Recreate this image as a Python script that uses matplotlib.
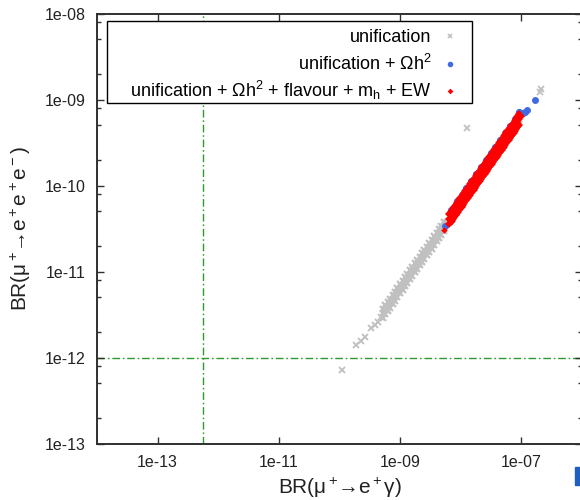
import matplotlib
matplotlib.use('Agg')
import matplotlib.pyplot as plt
from matplotlib.lines import Line2D
from matplotlib.ticker import FixedLocator, NullLocator, FixedFormatter
from matplotlib.patches import Rectangle

plt.rcParams['font.family'] = ['Liberation Sans', 'DejaVu Sans']
plt.rcParams['mathtext.fontset'] = 'custom'
plt.rcParams['mathtext.rm'] = 'Liberation Sans'
plt.rcParams['mathtext.it'] = 'Liberation Sans:italic'
plt.rcParams['mathtext.default'] = 'regular'

# ---------------- data ----------------
series_labels = ['unification',
                 'unification + Ωh$^2$',
                 'unification + Ωh$^2$ + flavour + m$_h$ + EW']

# unification: sparse crosses
gray_sparse_x = [1.09e-10, 1.90e-10, 2.30e-10, 2.60e-10, 3.36e-10, 3.80e-10, 4.31e-10, 4.90e-10,
                 1.29e-8, 2.0e-7, 2.1e-7]
gray_sparse_y = [7.2e-13, 1.40e-12, 1.57e-12, 1.74e-12, 2.22e-12, 2.39e-12, 2.61e-12, 2.98e-12,
                 4.72e-10, 1.23e-9, 1.31e-9]

# unification: dense band (upper edge / middle / lower edge)
gray_band_x = [5.2e-10, 5.7e-10, 6.2e-10, 6.8e-10, 7.5e-10, 8.2e-10, 9.0e-10, 1.0e-9, 1.1e-9,
               1.2e-9, 1.3e-9, 1.45e-9, 1.6e-9, 1.75e-9, 1.9e-9, 2.1e-9, 2.3e-9, 2.5e-9,
               2.75e-9, 3.0e-9, 3.3e-9, 3.6e-9, 4.0e-9, 4.4e-9, 4.8e-9, 5.3e-9]
gray_band_y_up = [3.69e-12, 4.05e-12, 4.40e-12, 4.83e-12, 5.33e-12, 5.82e-12, 6.39e-12, 7.10e-12,
                  7.81e-12, 8.52e-12, 9.23e-12, 1.03e-11, 1.14e-11, 1.24e-11, 1.35e-11, 1.49e-11,
                  1.63e-11, 1.78e-11, 1.95e-11, 2.13e-11, 2.34e-11, 2.56e-11, 2.84e-11, 3.12e-11,
                  3.41e-11, 3.76e-11]
gray_band_y_mid = [3.28e-12, 3.59e-12, 3.91e-12, 4.28e-12, 4.73e-12, 5.17e-12, 5.67e-12, 6.30e-12,
                   6.93e-12, 7.56e-12, 8.19e-12, 9.14e-12, 1.01e-11, 1.10e-11, 1.20e-11, 1.32e-11,
                   1.45e-11, 1.58e-11, 1.73e-11, 1.89e-11, 2.08e-11, 2.27e-11, 2.52e-11, 2.77e-11,
                   3.02e-11, 3.34e-11]
gray_band_y_low = [2.91e-12, 3.19e-12, 3.47e-12, 3.81e-12, 4.20e-12, 4.59e-12, 5.04e-12, 5.60e-12,
                   6.16e-12, 6.72e-12, 7.28e-12, 8.12e-12, 8.96e-12, 9.80e-12, 1.06e-11, 1.18e-11,
                   1.29e-11, 1.40e-11, 1.54e-11, 1.68e-11, 1.85e-11, 2.02e-11, 2.24e-11, 2.46e-11,
                   2.69e-11, 2.97e-11]
# unification: points beneath the red band
gray_hidden_x = [6.0e-9, 8.0e-9, 1.1e-8, 1.5e-8, 2.0e-8, 2.8e-8, 3.8e-8, 5.0e-8, 7.0e-8, 9.0e-8]
gray_hidden_y = [3.8e-11, 5.0e-11, 6.9e-11, 9.5e-11, 1.26e-10, 1.76e-10, 2.4e-10, 3.15e-10, 4.4e-10, 5.7e-10]

# unification + relic density (fringe on the upper side of the red band)
blue_band_x = [6.8e-9, 8.6e-9, 1.03e-8, 1.24e-8, 1.49e-8, 1.79e-8, 2.15e-8, 2.59e-8, 3.11e-8,
               3.74e-8, 4.5e-8, 5.4e-8, 6.5e-8, 7.8e-8, 9.3e-8]
blue_band_y_up = [5.17e-11, 6.54e-11, 7.83e-11, 9.42e-11, 1.13e-10, 1.36e-10, 1.63e-10, 1.97e-10,
                  2.36e-10, 2.84e-10, 3.42e-10, 4.10e-10, 4.94e-10, 5.93e-10, 7.07e-10]
blue_sparse_x = [5.6e-9, 1.05e-7, 1.15e-7, 1.22e-7, 1.69e-7]
blue_sparse_y = [3.4e-11, 6.9e-10, 7.2e-10, 7.5e-10, 9.9e-10]

# all constraints
red_band_x = [6.5e-9, 7.1e-9, 7.8e-9, 8.6e-9, 9.4e-9, 1.03e-8, 1.13e-8, 1.24e-8, 1.36e-8, 1.49e-8,
              1.63e-8, 1.79e-8, 1.96e-8, 2.15e-8, 2.36e-8, 2.59e-8, 2.84e-8, 3.11e-8, 3.41e-8,
              3.74e-8, 4.1e-8, 4.5e-8, 4.93e-8, 5.4e-8, 5.9e-8, 6.5e-8, 7.1e-8, 7.8e-8, 8.6e-8, 9.3e-8]
red_band_y_up = [4.68e-11, 5.11e-11, 5.62e-11, 6.19e-11, 6.77e-11, 7.42e-11, 8.14e-11, 8.93e-11,
                 9.79e-11, 1.07e-10, 1.17e-10, 1.29e-10, 1.41e-10, 1.55e-10, 1.70e-10, 1.86e-10,
                 2.04e-10, 2.24e-10, 2.46e-10, 2.69e-10, 2.95e-10, 3.24e-10, 3.55e-10, 3.89e-10,
                 4.25e-10, 4.68e-10, 5.11e-10, 5.62e-10, 6.19e-10, 6.70e-10]
red_band_y_mid = [4.10e-11, 4.47e-11, 4.91e-11, 5.42e-11, 5.92e-11, 6.49e-11, 7.12e-11, 7.81e-11,
                  8.57e-11, 9.39e-11, 1.03e-10, 1.13e-10, 1.23e-10, 1.35e-10, 1.49e-10, 1.63e-10,
                  1.79e-10, 1.96e-10, 2.15e-10, 2.36e-10, 2.58e-10, 2.84e-10, 3.11e-10, 3.40e-10,
                  3.72e-10, 4.10e-10, 4.47e-10, 4.91e-10, 5.42e-10, 5.86e-10]
red_band_y_low = [3.58e-11, 3.91e-11, 4.29e-11, 4.73e-11, 5.17e-11, 5.67e-11, 6.22e-11, 6.82e-11,
                  7.48e-11, 8.20e-11, 8.97e-11, 9.85e-11, 1.08e-10, 1.18e-10, 1.30e-10, 1.42e-10,
                  1.56e-10, 1.71e-10, 1.88e-10, 2.06e-10, 2.26e-10, 2.48e-10, 2.71e-10, 2.97e-10,
                  3.25e-10, 3.58e-10, 3.91e-10, 4.29e-10, 4.73e-10, 5.12e-10]
red_band_x2 = [6.8e-9, 7.45e-9, 8.2e-9, 9.0e-9, 9.85e-9, 1.08e-8, 1.185e-8, 1.3e-8, 1.425e-8,
               1.56e-8, 1.71e-8, 1.875e-8, 2.05e-8, 2.25e-8, 2.47e-8, 2.71e-8, 2.97e-8, 3.26e-8,
               3.57e-8, 3.92e-8, 4.3e-8, 4.71e-8, 5.16e-8, 5.65e-8, 6.2e-8, 6.8e-8, 7.45e-8,
               8.2e-8, 8.95e-8]
red_band2_y_up = [4.90e-11, 5.36e-11, 5.90e-11, 6.48e-11, 7.09e-11, 7.78e-11, 8.53e-11, 9.36e-11,
                  1.03e-10, 1.12e-10, 1.23e-10, 1.35e-10, 1.48e-10, 1.62e-10, 1.78e-10, 1.95e-10,
                  2.14e-10, 2.35e-10, 2.57e-10, 2.82e-10, 3.10e-10, 3.39e-10, 3.72e-10, 4.07e-10,
                  4.46e-10, 4.90e-10, 5.36e-10, 5.90e-10, 6.44e-10]
red_band2_y_low = [3.74e-11, 4.10e-11, 4.51e-11, 4.95e-11, 5.42e-11, 5.94e-11, 6.52e-11, 7.15e-11,
                   7.84e-11, 8.58e-11, 9.41e-11, 1.03e-10, 1.13e-10, 1.24e-10, 1.36e-10, 1.49e-10,
                   1.63e-10, 1.79e-10, 1.96e-10, 2.16e-10, 2.37e-10, 2.59e-10, 2.84e-10, 3.11e-10,
                   3.41e-10, 3.74e-10, 4.10e-10, 4.51e-10, 4.92e-10]
red_sparse_x = [5.2e-9, 9.9e-8]
red_sparse_y = [3.0e-11, 6.4e-10]

# experimental limits
meg_limit = 5.7e-13      # BR(mu -> e gamma)
sindrum_limit = 1.0e-12  # BR(mu -> 3e)

x_ticks = [1e-13, 1e-11, 1e-9, 1e-7]
x_tick_labels = ['1e-13', '1e-11', '1e-09', '1e-07']
y_ticks = [1e-13, 1e-12, 1e-11, 1e-10, 1e-9, 1e-8]
y_tick_labels = ['1e-13', '1e-12', '1e-11', '1e-10', '1e-09', '1e-08']
y_minor_ticks = [m * d for d in [1e-13, 1e-12, 1e-11, 1e-10, 1e-9] for m in (2, 5, 8)]

# ---------------- styling ----------------
GRAY = '#c0c0c0'
BLUE = '#4169e1'
RED = '#ff0000'
GREEN = '#2f9a2f'
FRAME = '#303030'

fig = plt.figure(figsize=(5.8, 5.0), dpi=100)
W, H = 580, 500
AX_L, AX_W, AX_B, AX_H = 97, 485, 443.5, 430
ax = fig.add_axes([AX_L / W, (H - AX_B) / H, AX_W / W, AX_H / H])
ax.set_xscale('log')
ax.set_yscale('log')
ax.set_xlim(1e-14, 1e-6)
ax.set_ylim(1e-13, 1e-8)


def axx(px):
    return (px - AX_L) / AX_W


def axy(py):
    return (AX_B - py) / AX_H


# limits
for ln in (ax.axvline(meg_limit, color=GREEN, lw=1.0, zorder=1),
           ax.axhline(sindrum_limit, color=GREEN, lw=1.0, zorder=1)):
    ln.set_dashes([5.5, 2.0, 1.2, 2.0])

gkw = dict(ls='', marker='x', color=GRAY, ms=4.4, mew=1.6, zorder=2)
ax.plot(gray_sparse_x, gray_sparse_y, **dict(gkw, ms=3.8, mew=1.3))
ax.plot(gray_band_x, gray_band_y_up, **gkw)
ax.plot(gray_band_x, gray_band_y_mid, **gkw)
ax.plot(gray_band_x, gray_band_y_low, **gkw)
ax.plot(gray_hidden_x, gray_hidden_y, **gkw)

bkw = dict(ls='', marker='o', color=BLUE, ms=5.2, mew=0, zorder=3)
ax.plot(blue_band_x, blue_band_y_up, **bkw)
ax.plot(blue_sparse_x, blue_sparse_y, **dict(bkw, ms=5.0))

rkw = dict(ls='', marker='D', color=RED, ms=3.8, mew=0, zorder=4)
ax.plot(red_band_x, red_band_y_up, **rkw)
ax.plot(red_band_x, red_band_y_mid, **rkw)
ax.plot(red_band_x, red_band_y_low, **rkw)
ax.plot(red_band_x2, red_band2_y_up, **rkw)
ax.plot(red_band_x2, red_band2_y_low, **rkw)
ax.plot(red_sparse_x, red_sparse_y, **dict(rkw, ms=3.3))

# ticks
ax.xaxis.set_major_locator(FixedLocator(x_ticks))
ax.xaxis.set_major_formatter(FixedFormatter(x_tick_labels))
ax.xaxis.set_minor_locator(NullLocator())
ax.yaxis.set_major_locator(FixedLocator(y_ticks))
ax.yaxis.set_major_formatter(FixedFormatter(y_tick_labels))
ax.yaxis.set_minor_locator(FixedLocator(y_minor_ticks))
ax.tick_params(which='both', direction='in', top=True, right=True, color=FRAME, width=1.0)
ax.tick_params(which='major', length=5.0, labelsize=11.5, labelcolor='#222222')
ax.tick_params(which='minor', length=2.8)
ax.tick_params(axis='x', which='major', pad=8)
ax.tick_params(axis='y', which='major', pad=8)
for s in ax.spines.values():
    s.set_color(FRAME)
    s.set_linewidth(1.4)

ax.set_xlabel(r'BR(μ$^+\!$→e$^+$γ)', fontsize=15, color='#222222')
ax.set_ylabel(r'BR(μ$^+\!$→e$^+$e$^+$e$^-$)', fontsize=15, color='#222222')
ax.xaxis.set_label_coords(0.5, -(476 - AX_B) / AX_H)
ax.yaxis.set_label_coords((33 - AX_L) / AX_W, 0.5)

# key (gnuplot style: right-aligned text, symbol on the right)
ax.add_patch(Rectangle((axx(107), axy(103.3)), axx(471.7) - axx(107), axy(21) - axy(103.3),
                       transform=ax.transAxes, facecolor='white', edgecolor='black',
                       lw=1.0, zorder=10))
key_baselines = [41.5, 69.5, 96.5]
key_marker_y = [35.5, 63.5, 91.0]
key_styles = [dict(marker='x', color=GRAY, ms=3.0, mew=1.2),
              dict(marker='o', color=BLUE, ms=4.0, mew=0),
              dict(marker='D', color=RED, ms=2.9, mew=0)]
for lab, by, my, st in zip(series_labels, key_baselines, key_marker_y, key_styles):
    ax.text(axx(431.7), axy(by), lab, transform=ax.transAxes, ha='right', va='baseline',
            fontsize=13, color='black', zorder=11)
    ax.add_line(Line2D([axx(450.5)], [axy(my)], ls='', transform=ax.transAxes, zorder=11, **st))

# small logo fragment in the bottom-right corner
fig.patches.append(Rectangle((575 / W, 1 - 485 / H), 5 / W, 18 / H, transform=fig.transFigure,
                             color='#1f5fbf', zorder=5))

fig.savefig('out.png', dpi=100)
